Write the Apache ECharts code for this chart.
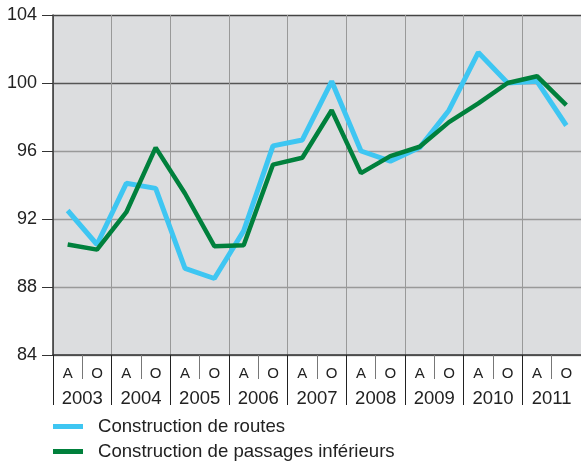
<!DOCTYPE html>
<html>
<head>
<meta charset="utf-8">
<script src="https://cdn.jsdelivr.net/npm/echarts@6/dist/echarts.min.js"></script>
<style>
html,body{margin:0;padding:0;background:#fff;}
#chart{width:581px;height:461px;}
</style>
</head>
<body>
<div id="chart"></div>
<script>
const categories = ['A','O','A','O','A','O','A','O','A','O','A','O','A','O','A','O','A','O'];
const years = ['2003','2004','2005','2006','2007','2008','2009','2010','2011'];
const yTicks = [84, 88, 92, 96, 100, 104];
const routes = [92.5, 90.5, 94.1, 93.8, 89.1, 88.5, 91.3, 96.3, 96.65, 100.1, 96.0, 95.4, 96.2, 98.4, 101.8, 100.0, 100.1, 97.5];
const passages = [90.5, 90.2, 92.4, 96.2, 93.5, 90.4, 90.45, 95.2, 95.6, 98.4, 94.7, 95.7, 96.25, 97.7, 98.8, 100.0, 100.4, 98.7];
const seriesNames = ['Construction de routes', 'Construction de passages inférieurs'];

const FONT = 'Liberation Sans, Arial, sans-serif';
const legendBase = {
  orient: 'horizontal', left: 53, padding: 0,
  itemWidth: 30, itemHeight: 5, icon: 'rect',
  textStyle: {fontSize: 18.6, color: '#222', fontFamily: FONT, padding: [0, 0, 0, 10]}
};
const chart = echarts.init(document.getElementById('chart'), null, {renderer: 'canvas'});
chart.setOption({
  animation: false,
  textStyle: {fontFamily: FONT},
  grid: {left: 53, top: 15, right: -2, bottom: 106, show: true, backgroundColor: '#dcdddf', borderWidth: 0},
  xAxis: [{
    type: 'category', data: categories, position: 'bottom',
    axisLine: {show: true, lineStyle: {color: '#333', width: 1.5}},
    axisTick: {show: true, length: 24, interval: function (i) { return i % 2 === 1; }, lineStyle: {color: '#777', width: 1}},
    axisLabel: {interval: 0, fontSize: 15, color: '#222', margin: 11, fontFamily: FONT},
    splitLine: {show: false}
  }, {
    type: 'category', data: years, position: 'bottom',
    axisLine: {show: false},
    axisTick: {show: true, length: 50, interval: 0, lineStyle: {color: '#222', width: 1}},
    axisLabel: {interval: 0, fontSize: 18.5, color: '#222', margin: 34, fontFamily: FONT},
    splitLine: {show: true, interval: 0, lineStyle: {color: '#999', width: 1}}
  }],
  yAxis: {
    type: 'value', min: yTicks[0], max: yTicks[yTicks.length - 1], interval: 4,
    axisLine: {show: true, lineStyle: {color: '#333', width: 1.5}},
    axisTick: {show: true, length: 11, lineStyle: {color: '#333'}},
    axisLabel: {fontSize: 18, color: '#222', margin: 16, fontFamily: FONT},
    splitLine: {show: true, lineStyle: {color: ['#999', '#999', '#999', '#999', '#555', '#444'], width: 1.3}}
  },
  legend: [
    Object.assign({}, legendBase, {top: 417, data: [seriesNames[0]]}),
    Object.assign({}, legendBase, {top: 442, data: [seriesNames[1]]})
  ],
  series: [{
    name: seriesNames[0], type: 'line', data: routes, symbol: 'none',
    xAxisIndex: 0, color: '#3ec6f2',
    lineStyle: {width: 5, color: '#3ec6f2'}, itemStyle: {color: '#3ec6f2'}
  }, {
    name: seriesNames[1], type: 'line', data: passages, symbol: 'none',
    xAxisIndex: 0, color: '#00803c',
    lineStyle: {width: 4.5, color: '#00803c'}, itemStyle: {color: '#00803c'}
  }]
});
</script>
</body>
</html>
